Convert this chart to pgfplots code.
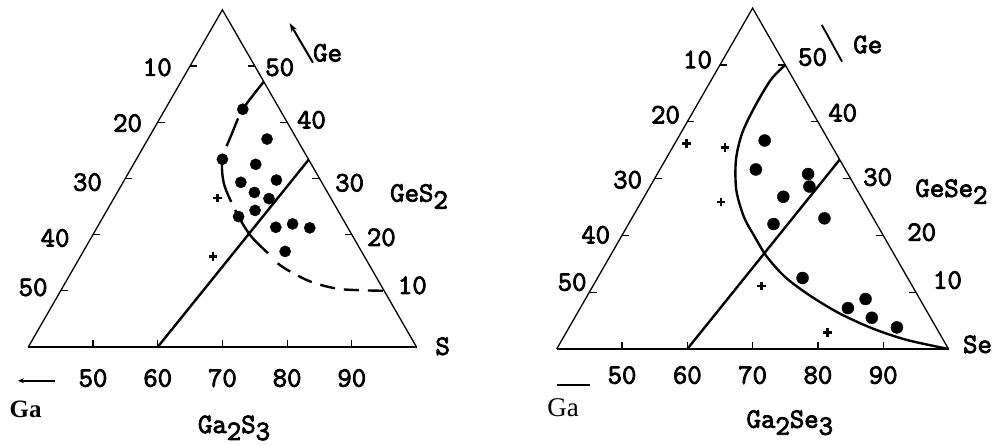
\documentclass[border=0pt]{standalone}
\usepackage{fontspec}
\usepackage{pgfplots}
\pgfplotsset{compat=1.18}
\usetikzlibrary{arrows.meta}
\newfontfamily\tw[FakeBold=3]{Latin Modern Mono}
\newfontfamily\sr{Liberation Serif}
\newcommand\twf{\tw\fontsize{28}{30}\selectfont}
\newcommand\sub[1]{\raisebox{-7pt}{#1}}

% compositions in at.%: S (or Se) and Ge, Ga is the rest.
% section corners: Ga60S40 (left), S100 (right), Ge60S40 (top)
\pgfplotsset{
  /pgfplots/table/tern/.style={
    x expr=\thisrow{S}+0.5*\thisrow{Ge},
    y expr=0.866*\thisrow{Ge}},
  tern axis/.style={
    xmin=40, xmax=100, ymin=0, ymax=52,
    axis x line=bottom, axis y line=none, ytick=\empty,
    x axis line style={-, line width=1.5pt},
    xtick={50,60,70,80,90}, tick align=inside, major tick length=7pt,
    major tick style={line width=1.2pt, black},
    /pgf/number format/assume math mode=true,
    clip=false, anchor=south west,
  },
  edge/.style={black, line width=1.3pt},
  tie/.style={black, line width=2.4pt},
  dot/.style={only marks, mark=*, mark size=5.6pt, black},
  cross/.style={only marks, mark=+, mark size=4.2pt, black,
    mark options={line width=2.4pt}},
}
\tikzset{lab/.style={font=\twf, inner sep=0pt}}

\begin{document}
\begin{tikzpicture}
\path[use as bounding box] (0,0) rectangle (995pt,446pt);

% ---------- Ga-Ge-S ----------
\begin{axis}[tern axis, at={(28.3pt,99pt)}, x=6.47pt, y=6.49pt,
  xticklabel style={font=\twf, inner sep=0pt, yshift=-22pt}]
  \addplot[edge] table[tern] {
S Ge
40 0
40 60
100 0
};
  \addplot[edge, quiver={u=1.1,v=0}, -] table[tern] {
S Ge
40 50
40 40
40 30
40 20
40 10
};
  \addplot[edge, quiver={u=-1.1,v=0}, -] table[tern] {
S Ge
50 50
60 40
70 30
80 20
90 10
};
  % Ga2S3 - GeS2
  \addplot[tie] table[tern] {
S Ge
60 0
66.67 33.33
};
  % boundary (dashed)
  \addplot[tie, smooth, dash pattern=on 36pt off 9pt on 30pt off 16pt on 42pt off 9pt on 80pt] table[tern] {
S Ge
52.8 47.2
52.0 42.3
52.5 37.9
53.3 33.4
55.9 28.8
60.9 23.2
64.7 19.6
68.7 16.7
};
  \addplot[tie, smooth, dash pattern=on 15pt off 9pt] table[tern] {
S Ge
71.1 14.9
73.2 13.7
77.9 11.6
83.1 10.3
90.0 10.0
};
  \addplot[dot] table[tern] {
S Ge
52.0 42.3
58.4 37.0
53.3 33.4
58.9 32.5
58.2 29.3
63.5 29.7
61.2 27.5
64.0 26.4
62.9 24.3
60.9 23.2
67.6 21.3
69.9 21.9
72.9 21.2
71.2 17.0
};
  \addplot[cross] table[tern] {
S Ge
56.0 26.5
60.5 16.1
};
  \node[lab, anchor=east] at (axis cs:62.2,43.1) {10};
  \node[lab, anchor=east] at (axis cs:57.6,34.5) {20};
  \node[lab, anchor=east] at (axis cs:51.4,25.4) {30};
  \node[lab, anchor=east] at (axis cs:46.4,16.8) {40};
  \node[lab, anchor=east] at (axis cs:43.0,9.2) {50};
  \node[lab, anchor=west] at (axis cs:76.6,43.1) {50};
  \node[lab, anchor=west] at (axis cs:81.5,35.0) {40};
  \node[lab, anchor=west] at (axis cs:87.4,25.3) {30};
  \node[lab, anchor=west] at (axis cs:92.3,16.9) {20};
  \node[lab, anchor=west] at (axis cs:97.1,9.5) {10};
  \node[lab, anchor=base west] at (axis cs:84.0,44.0) {Ge};
  \node[lab, anchor=base west] at (axis cs:95.9,22.4) {GeS\sub{2}};
  \node[lab, anchor=base west] at (axis cs:102.9,-1.2) {S};
  \node[lab, anchor=base] at (axis cs:71.8,-13.25) {Ga\sub{2}S\sub{3}};
  \node[font=\sr\bfseries\fontsize{25}{28}\selectfont, inner sep=0pt, anchor=base] at (axis cs:39.6,-10.9) {Ga};
  \draw[-{Stealth[length=9pt,width=6pt]}, line width=2pt] (axis cs:84.0,43.8) -- (axis cs:80.4,49.9);
  \draw[-{Stealth[length=6pt,width=5pt]}, line width=2pt] (axis cs:44.1,-5.2) -- (axis cs:38.4,-5.2);
\end{axis}

% ---------- Ga-Ge-Se ----------
\begin{axis}[tern axis, at={(556.7pt,97pt)}, x=6.53pt, y=6.56pt,
  xticklabel style={font=\twf, inner sep=0pt, yshift=-17pt}]
  \addplot[edge] table[tern] {
S Ge
40 0
40 60
100 0
};
  \addplot[edge, quiver={u=1.1,v=0}, -] table[tern] {
S Ge
40 50
40 40
40 30
40 20
40 10
};
  \addplot[edge, quiver={u=-1.1,v=0}, -] table[tern] {
S Ge
50 50
60 40
70 30
80 20
90 10
};
  % Ga2Se3 - GeSe2
  \addplot[tie] table[tern] {
S Ge
60 0
66.67 33.33
};
  % boundary
  \addplot[tie, smooth] table[tern] {
S Ge
50.0 50.0
49.1 47.4
49.0 42.7
49.4 38.0
50.8 33.3
53.5 28.0
57.0 23.3
60.4 19.8
64.0 16.3
68.6 12.7
73.9 9.5
80.1 6.3
86.6 3.6
92.8 1.6
100 0
};
  \addplot[dot, mark size=6pt] table[tern] {
S Ge
53.5 36.7
54.7 31.6
63.1 30.8
64.4 28.6
61.3 26.8
62.2 22.0
69.5 23.0
71.4 12.5
82.9 8.8
81.0 7.2
85.5 5.5
90.2 3.8
};
  \addplot[cross] table[tern] {
S Ge
41.8 36.2
48.0 35.5
52.2 25.9
65.8 11.1
80.0 2.9
};
  \node[lab, anchor=east] at (axis cs:63.8,44.1) {10};
  \node[lab, anchor=east] at (axis cs:58.9,35.7) {20};
  \node[lab, anchor=east] at (axis cs:53.1,25.8) {30};
  \node[lab, anchor=east] at (axis cs:48.2,17.4) {40};
  \node[lab, anchor=east] at (axis cs:44.6,10.2) {50};
  \node[lab, anchor=west] at (axis cs:76.95,44.5) {50};
  \node[lab, anchor=west] at (axis cs:81.55,36.0) {40};
  \node[lab, anchor=west] at (axis cs:86.9,26.2) {30};
  \node[lab, anchor=west] at (axis cs:93.65,17.8) {20};
  \node[lab, anchor=west] at (axis cs:97.6,10.5) {10};
  \node[lab, anchor=base west] at (axis cs:85.4,45.1) {Ge};
  \node[lab, anchor=base west] at (axis cs:94.9,23.2) {GeSe\sub{2}};
  \node[lab, anchor=base west] at (axis cs:102.2,-0.6) {Se};
  \node[lab, anchor=base] at (axis cs:75.7,-12.0) {Ga\sub{2}Se\sub{3}};
  \node[font=\sr\fontsize{27}{30}\selectfont, inner sep=0pt, anchor=base] at (axis cs:41.0,-10.3) {Ga};
  \draw[line width=1.8pt] (axis cs:80.6,49.4) -- (axis cs:83.7,43.8);
  \draw[line width=1.8pt] (axis cs:40.0,-5.5) -- (axis cs:45.1,-5.5);
\end{axis}
\end{tikzpicture}
\end{document}
